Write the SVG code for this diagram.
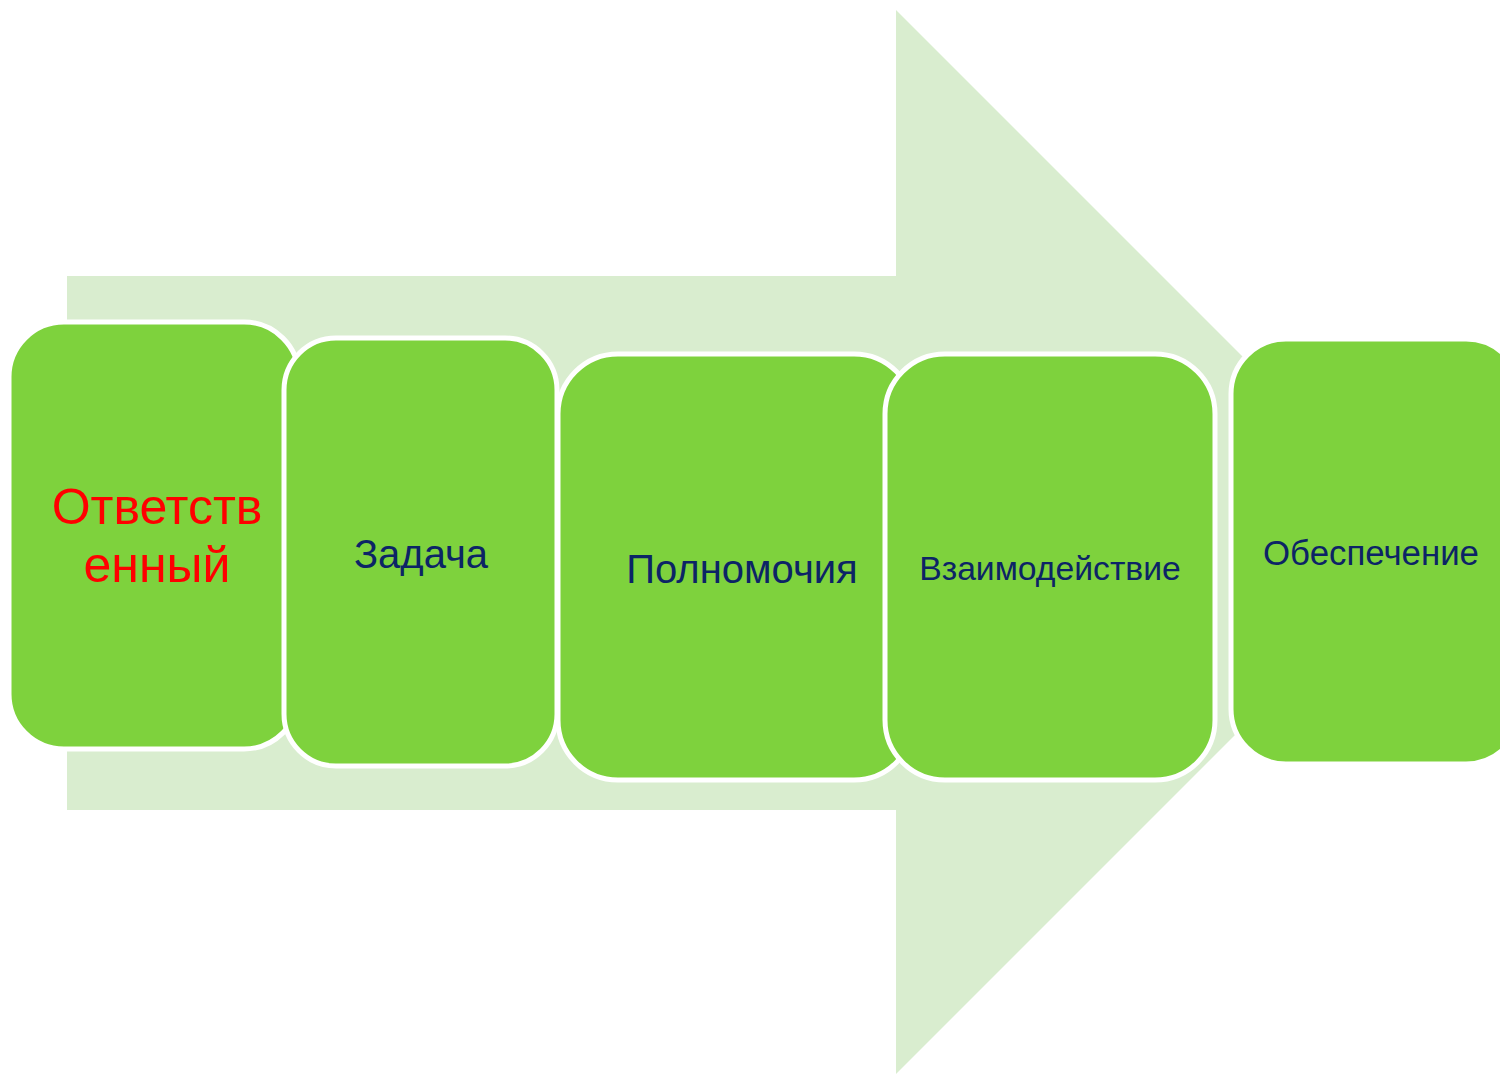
<svg xmlns="http://www.w3.org/2000/svg" width="1500" height="1074" viewBox="0 0 1500 1074">
<style>
.box{fill:#7ED23D;stroke:#FFFFFF;stroke-width:5}
.t{font-family:"Liberation Sans","DejaVu Sans",sans-serif;fill:#0C2466;text-anchor:middle}
.r{font-family:"Liberation Sans","DejaVu Sans",sans-serif;fill:#FF0000;text-anchor:middle}
</style>
<rect width="1500" height="1074" fill="#FFFFFF"/>
<g id="arrow">
<polygon points="67,276 896,276 896,10 1428,542 896,1074 896,810 67,810" fill="#D9EDCF"/>
</g>
<g id="connectors"></g>
<g id="node1">
<rect class="box" x="9" y="322" width="290" height="427" rx="55"/>
<text class="r" x="157" y="524" font-size="50">Ответств</text>
<text class="r" x="157" y="582" font-size="50">енный</text>
</g>
<g id="node2">
<rect class="box" x="284" y="338" width="273" height="428" rx="52"/>
<text class="t" x="421" y="568" font-size="40">Задача</text>
</g>
<g id="node3">
<rect class="box" x="558" y="354" width="356" height="426" rx="60"/>
<text class="t" x="742" y="583" font-size="40">Полномочия</text>
</g>
<g id="node4">
<rect class="box" x="885" y="354" width="330" height="426" rx="60"/>
<text class="t" x="1050" y="580" font-size="33.7">Взаимодействие</text>
</g>
<g id="node5">
<rect class="box" x="1231" y="339" width="290" height="425" rx="55"/>
<text class="t" x="1371" y="565" font-size="34.8">Обеспечение</text>
</g>
</svg>
